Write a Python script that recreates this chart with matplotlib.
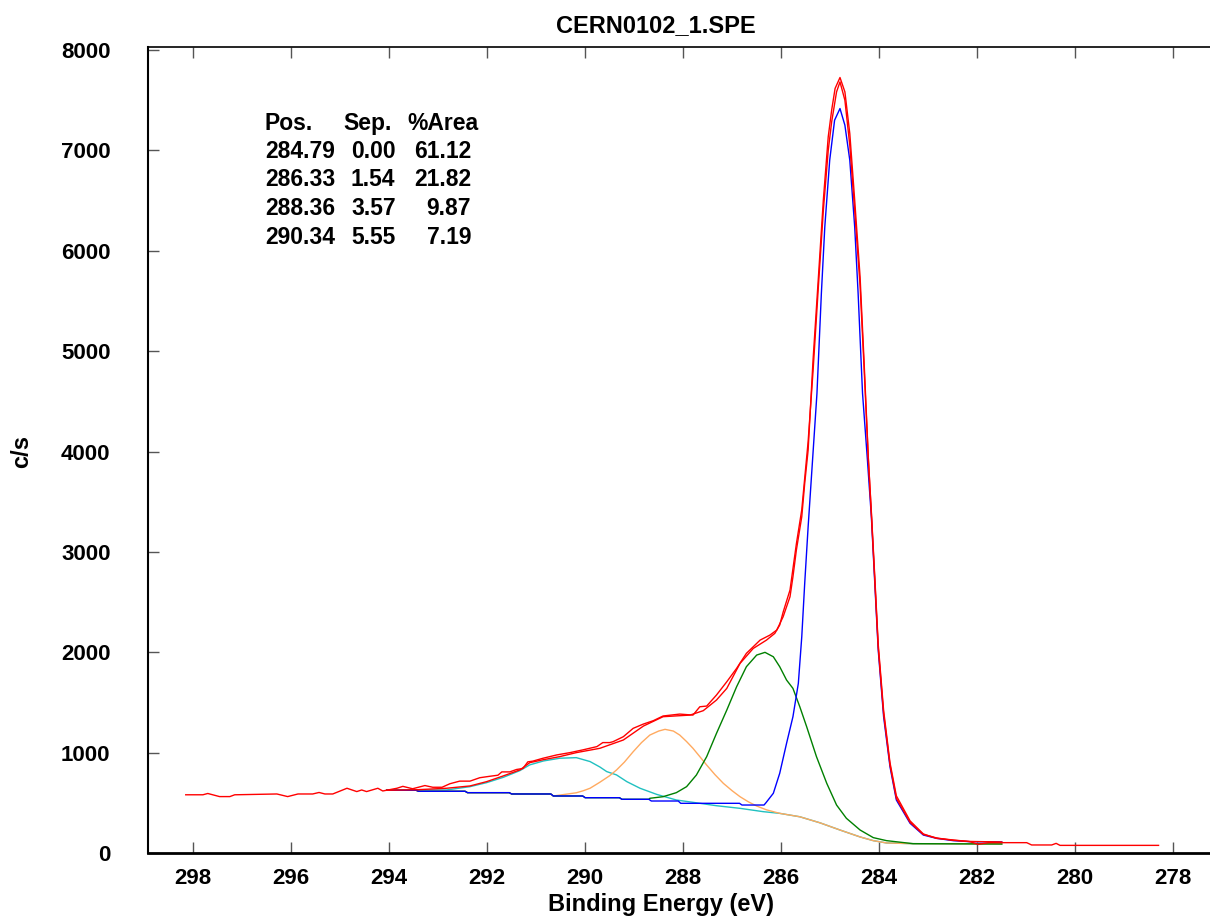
import matplotlib
matplotlib.use("Agg")
import matplotlib.pyplot as plt

plt.rcParams["font.family"] = ["Liberation Sans", "DejaVu Sans"]
plt.rcParams["font.weight"] = "bold"

# measured spectrum (c/s against binding energy, eV)
raw_x = [298.15, 297.80, 297.70, 297.46, 297.25, 297.15, 296.29, 296.07, 295.86, 295.56,
         295.43, 295.31, 295.15, 294.86, 294.66, 294.56, 294.46, 294.23, 294.13, 293.84,
         293.72, 293.52, 293.27, 293.11, 292.92, 292.76, 292.56, 292.35, 292.15, 291.95,
         291.78, 291.70, 291.54, 291.40, 291.27, 291.17, 291.07, 290.86, 290.58, 290.31,
         290.05, 289.76, 289.64, 289.50, 289.43, 289.22, 289.02, 288.81, 288.61, 288.41,
         288.07, 287.80, 287.66, 287.52, 287.32, 287.11, 286.91, 286.71, 286.43, 286.23,
         286.09, 285.96, 285.82, 285.76, 285.69, 285.58, 285.52, 285.45, 285.35, 285.24,
         285.14, 285.04, 284.97, 284.90, 284.80, 284.70, 284.60, 284.50, 284.39, 284.31,
         284.22, 284.16, 284.09, 284.02, 283.91, 283.78, 283.65, 283.37, 283.10, 282.83,
         282.49, 282.15, 281.98, 281.77, 280.99, 280.89, 280.48, 280.39, 280.31, 278.30]
raw_y = [580, 580, 593, 562, 562, 580, 588, 562, 588, 588,
         603, 588, 588, 645, 612, 628, 612, 645, 618, 645,
         664, 640, 672, 655, 655, 690, 716, 716, 750, 764,
         775, 808, 808, 832, 842, 908, 915, 944, 977, 1000,
         1027, 1060, 1100, 1100, 1109, 1159, 1242, 1285, 1318, 1365,
         1384, 1374, 1457, 1464, 1574, 1706, 1839, 1989, 2121, 2171,
         2221, 2354, 2553, 2752, 3018, 3350, 3682, 4014, 4910, 5740,
         6504, 7135, 7401, 7617, 7726, 7583, 7168, 6504, 5740, 4910,
         3914, 3400, 2750, 2080, 1420, 900, 570, 320, 190, 146,
         130, 113, 86, 103, 103, 80, 80, 96, 76, 76]

# fitted envelope
env_x = [294.05, 293.45, 292.83, 292.35, 292.01, 291.67, 291.33, 291.13, 290.85, 290.52,
         290.18, 289.70, 289.22, 288.81, 288.41, 287.86, 287.59, 287.32, 287.11, 286.84,
         286.57, 286.30, 286.13, 286.03, 285.96, 285.82, 285.69, 285.58, 285.45, 285.35,
         285.24, 285.14, 285.04, 284.97, 284.87, 284.80, 284.70, 284.60, 284.50, 284.39,
         284.31, 284.22, 284.16, 284.09, 284.02, 283.91, 283.78, 283.65, 283.37, 283.10,
         282.83, 282.49, 282.15, 281.50]
env_y = [625, 630, 645, 668, 711, 768, 828, 900, 930, 960,
         1000, 1043, 1126, 1265, 1358, 1374, 1418, 1524, 1640, 1889,
         2038, 2121, 2188, 2271, 2400, 2620, 3080, 3420, 4100, 4800,
         5650, 6400, 7000, 7284, 7583, 7682, 7500, 7050, 6400, 5650,
         4850, 3914, 3380, 2720, 2050, 1390, 880, 545, 305, 185,
         150, 126, 115, 110]

# background, high-energy side and low-energy side
bgl_x = [294.05, 293.45, 293.40, 292.45, 292.40, 291.55, 291.50, 290.70, 290.65, 290.05,
         290.00, 289.30, 289.25, 288.70, 288.65, 288.10, 288.05, 286.85, 286.80, 286.35]
bgl_y = [625, 625, 615, 615, 601, 601, 588, 588, 568, 568,
         551, 551, 535, 535, 518, 518, 495, 495, 478, 478]
bgr_x = [286.84, 286.37, 286.03, 285.62, 285.21, 284.80, 284.39, 284.12, 283.85, 283.31, 281.50]
bgr_y = [445, 412, 395, 361, 301, 229, 160, 123, 100, 93, 90]

# components (peak part above the background)
c1_x = [286.31, 286.16, 286.03, 285.89, 285.76, 285.65, 285.58, 285.52, 285.45, 285.36,
        285.27, 285.18, 285.11, 285.01, 284.91, 284.80, 284.70, 284.60, 284.50, 284.43,
        284.34, 284.24, 284.16, 284.09, 284.02, 283.91, 283.78, 283.65, 283.37, 283.10,
        282.83, 282.49, 282.15, 281.50]
c1_y = [501, 595, 794, 1093, 1358, 1690, 2154, 2686, 3250, 3914,
        4579, 5575, 6238, 6902, 7301, 7417, 7251, 6902, 6238, 5575,
        4579, 3914, 3350, 2686, 2022, 1358, 860, 528, 296, 179,
        146, 123, 113, 110]
c2_x = [288.68, 288.41, 288.14, 287.93, 287.73, 287.52, 287.32, 287.11, 286.91, 286.71,
        286.50, 286.33, 286.16, 286.03, 285.89, 285.76, 285.62, 285.48, 285.28, 285.07,
        284.87, 284.67, 284.39, 284.12, 283.85]
c2_y = [545, 561, 601, 661, 777, 960, 1192, 1424, 1656, 1856,
        1972, 1999, 1955, 1856, 1723, 1640, 1457, 1258, 960, 694,
        478, 346, 229, 153, 123]
c3_x = [290.40, 290.18, 290.04, 289.90, 289.70, 289.50, 289.36, 289.20, 289.02, 288.85,
        288.68, 288.50, 288.37, 288.20, 288.07, 287.93, 287.80, 287.66, 287.52, 287.35,
        287.18, 287.00, 286.84, 286.67, 286.50, 286.30, 286.03]
c3_y = [585, 600, 620, 645, 705, 770, 827, 905, 1009, 1100,
        1175, 1215, 1232, 1215, 1175, 1110, 1043, 960, 876, 780,
        694, 620, 561, 510, 468, 430, 395]
c4_x = [294.05, 292.83, 292.35, 292.01, 291.67, 291.33, 291.13, 290.85, 290.52, 290.18,
        289.90, 289.70, 289.56, 289.36, 289.15, 288.88, 288.54, 288.14, 287.80, 287.32]
c4_y = [628, 628, 661, 701, 754, 821, 878, 917, 944, 950,
        911, 857, 811, 778, 711, 645, 584, 528, 505, 471]

pos = ["284.79", "286.33", "288.36", "290.34"]
sep = ["0.00", "1.54", "3.57", "5.55"]
area = ["61.12", "21.82", "9.87", "7.19"]


def with_bg(px, py):
    # background points outside the peak, then the peak itself
    lo, hi = min(px), max(px)
    xs = [x for x in bgl_x if x > hi] + list(px)
    ys = [y for x, y in zip(bgl_x, bgl_y) if x > hi] + list(py)
    xs += [x for x in bgr_x if x < lo]
    ys += [y for x, y in zip(bgr_x, bgr_y) if x < lo]
    return xs, ys


fig = plt.figure(figsize=(12.1, 9.18), dpi=100)
ax = fig.add_axes([148 / 1210, 1 - 853 / 918, 1 - 148 / 1210, (853 - 47) / 918])

lw = 1.0
x, y = with_bg(c4_x, c4_y)
ax.plot(x, y, color="#20c0c0", lw=lw)
x, y = with_bg(c3_x, c3_y)
ax.plot(x, y, color="#ffaa60", lw=lw)
x, y = with_bg(c2_x, c2_y)
ax.plot(x, y, color="#008000", lw=lw)
x, y = with_bg(c1_x, c1_y)
ax.plot(x, y, color="#0000ff", lw=lw)
ax.plot(env_x, env_y, color="#ff0000", lw=lw)
ax.plot(raw_x, raw_y, color="#ff0000", lw=lw)

ax.set_xlim(298.92, 277.25)
ax.set_ylim(0, 8030)
ax.set_xticks(range(298, 277, -2))
ax.set_yticks(range(0, 8001, 1000))
ax.tick_params(axis="x", direction="in", length=8, width=1, color="#555555",
               labelsize=16, pad=11, top=True)
ax.tick_params(axis="y", direction="in", length=8, width=1, color="#555555",
               labelsize=16, pad=27)
ax.spines["right"].set_visible(False)
ax.spines["bottom"].set_linewidth(2)
ax.spines["left"].set_linewidth(1.5)
ax.spines["top"].set_linewidth(1.2)

fig.text(656 / 1210, 1 - 26 / 918, "CERN0102_1.SPE", ha="center", va="center", fontsize=17, fontweight="bold")
fig.text(661 / 1210, 1 - 904 / 918, "Binding Energy (eV)", ha="center", va="center", fontsize=17, fontweight="bold")
fig.text(22 / 1210, 1 - 452 / 918, "c/s", ha="center", va="center", rotation=90, fontsize=17, fontweight="bold")

# peak table (baselines)
rows_y = [130, 158, 186, 215, 244]
yy = 1 - rows_y[0] / 918
fig.text(265 / 1210, yy, "Pos.", va="baseline", fontsize=16.5, fontweight="bold")
fig.text(343 / 1210, yy, "Sep.", va="baseline", fontsize=16.5, fontweight="bold")
fig.text(479 / 1210, yy, "%Area", ha="right", va="baseline", fontsize=16.5, fontweight="bold")
for i in range(4):
    yy = 1 - rows_y[i + 1] / 918
    fig.text(265 / 1210, yy, pos[i], va="baseline", fontsize=16.5, fontweight="bold")
    fig.text(351 / 1210, yy, sep[i], va="baseline", fontsize=16.5, fontweight="bold")
    fig.text(471 / 1210, yy, area[i], ha="right", va="baseline", fontsize=16.5, fontweight="bold")

fig.savefig("out.png", dpi=100)
